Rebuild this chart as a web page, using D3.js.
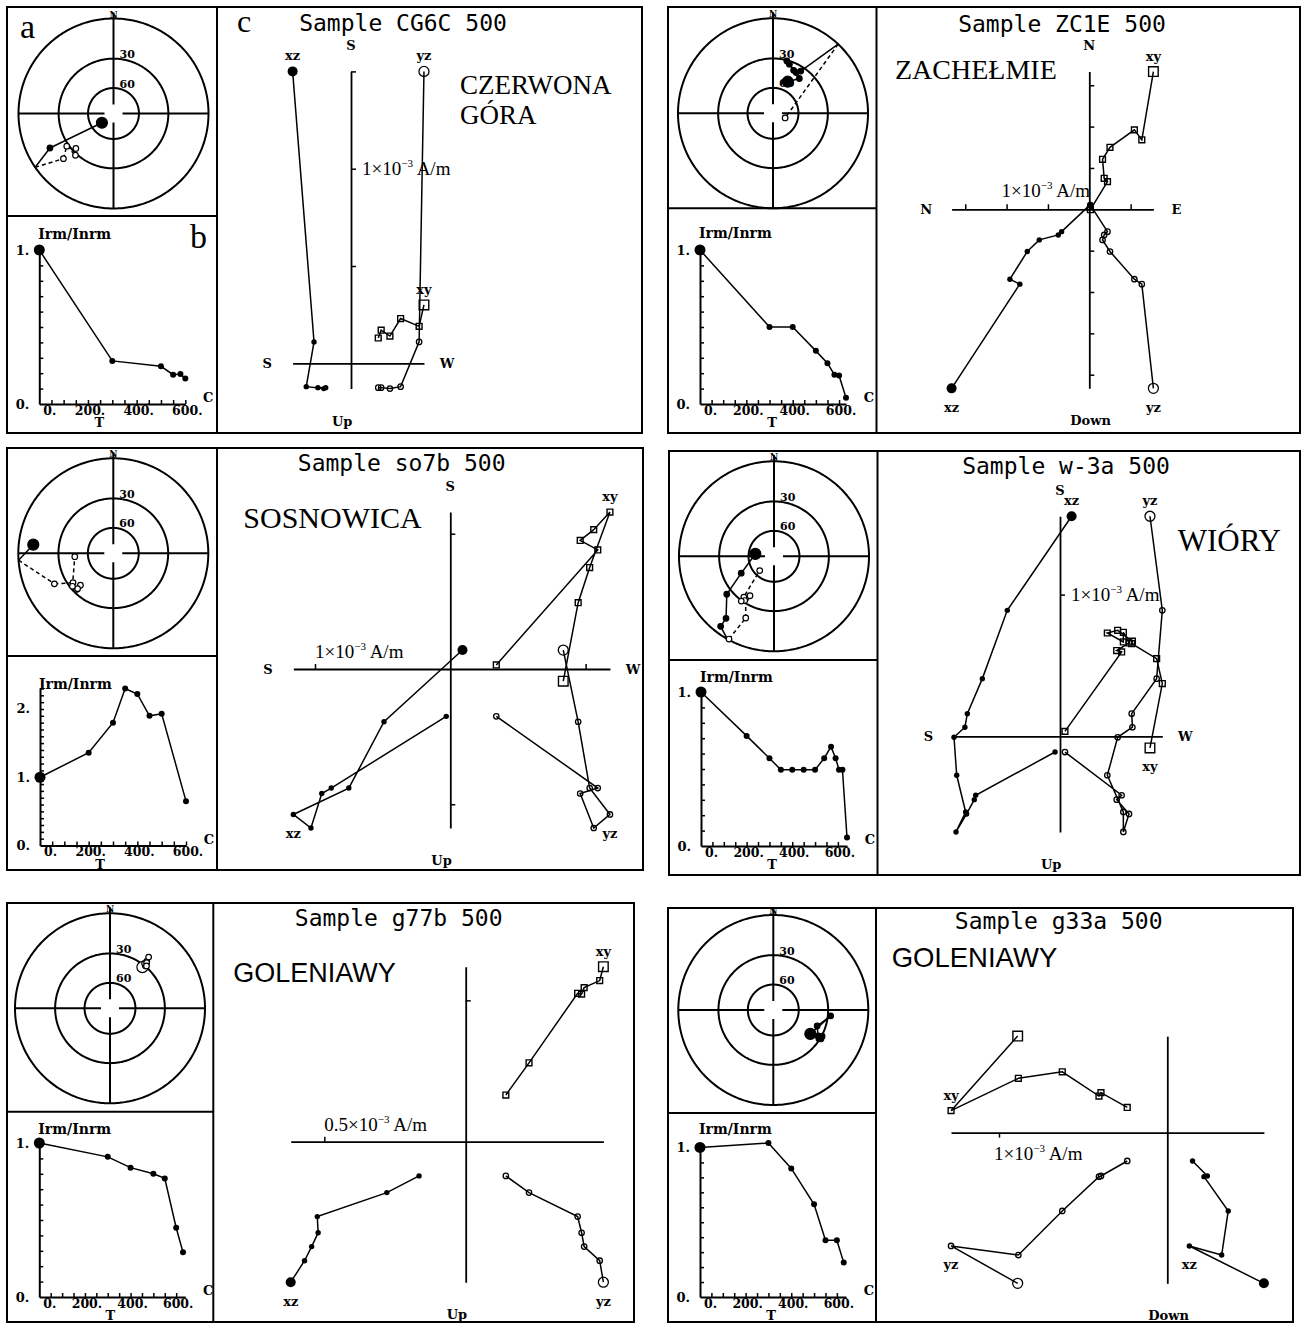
<!DOCTYPE html>
<html lang="pl">
<head>
<meta charset="utf-8">
<title>Thermal demagnetisation – six samples</title>
<script src="https://cdn.jsdelivr.net/npm/d3@7/dist/d3.min.js"></script>
<style>
  html, body { margin: 0; padding: 0; background: #fff; }
  svg { display: block; }
</style>
</head>
<body>
<svg id="fig" width="1301" height="1323"></svg>
<script>
// ---------------------------------------------------------------
// Data: thermal steps (°C), normalised intensity Irm/Inrm and the
// remanence vector components (north, east, down) in 10^-3 A/m.
// ---------------------------------------------------------------

// CG6C – Czerwona Góra
const tempCG6C  = [0, 300, 500, 550, 580, 600];
const ratioCG6C = [1, 0.28, 0.245, 0.19, 0.195, 0.165];
const northCG6C = [-0.30, -0.19, -0.23, -0.14, -0.17, -0.13];
const eastCG6C  = [-0.375, -0.35, -0.255, -0.20, -0.155, -0.14];
const downCG6C  = [1.50, 0.11, -0.12, -0.13, -0.125, -0.125];

// ZC1E – Zachełmie
const tempZC1E  = [0, 300, 400, 500, 550, 580, 600, 630];
const ratioZC1E = [1, 0.50, 0.50, 0.345, 0.265, 0.19, 0.185, 0.04];
const northZC1E = [1.665, 0.84, 0.96, 0.75, 0.605, 0.375, 0.335, -0.005];
const eastZC1E  = [0.775, 0.635, 0.545, 0.25, 0.16, 0.18, 0.22, 0.013];
const downZC1E  = [2.165, 0.905, 0.845, 0.51, 0.37, 0.31, 0.27, -0.05];

// so7b – Sosnowica
const tempSO7B  = [0, 200, 300, 350, 400, 450, 500, 600];
const ratioSO7B = [1, 1.36, 1.8, 2.3, 2.22, 1.9, 1.93, 0.65];
const northSO7B = [0.09, -0.49, -0.75, -1.16, -1.03, -0.95, -0.88, -0.03];
const eastSO7B  = [-0.835, -0.945, -1.03, -1.18, -1.06, -0.96, -1.09, -0.34];
const downSO7B  = [0.14, -0.39, -0.88, -1.075, -1.175, -0.92, -0.88, -0.35];

// w-3a – Wióry
const tempW3A  = [0, 200, 300, 350, 400, 450, 500, 540, 570, 590, 605, 620, 640];
const ratioW3A = [1, 0.715, 0.57, 0.495, 0.495, 0.495, 0.495, 0.57, 0.645, 0.57, 0.495, 0.495, 0.055];
const northW3A = [0.082, -0.372, -0.548, -0.654, -0.671, -0.748, -0.729, -0.666, -0.734, -0.659, -0.605, -0.595, -0.035];
const eastW3A  = [-0.635, -0.722, -0.682, -0.506, -0.511, -0.407, -0.334, -0.447, -0.447, -0.487, -0.40, -0.435, -0.035];
const downW3A  = [1.553, 0.889, 0.407, 0.16, 0.064, -0.007, -0.275, -0.534, -0.675, -0.548, -0.447, -0.416, -0.111];

// g77b – Goleniawy
const tempG77B  = [0, 300, 400, 500, 550, 600, 630];
const ratioG77B = [1, 0.91, 0.84, 0.80, 0.77, 0.45, 0.29];
const northG77B = [0.619, 0.570, 0.545, 0.522, 0.525, 0.279, 0.165];
const eastG77B  = [0.487, 0.474, 0.419, 0.410, 0.396, 0.224, 0.142];
const downG77B  = [-0.497, -0.421, -0.371, -0.322, -0.265, -0.180, -0.121];

// g33a – Goleniawy
const tempG33A  = [0, 300, 400, 500, 550, 600, 630];
const ratioG33A = [1, 1.03, 0.86, 0.62, 0.38, 0.38, 0.23];
const northG33A = [-0.574, -0.131, -0.323, -0.362, -0.218, -0.238, -0.150];
const eastG33A  = [0.889, 1.285, 0.885, 0.624, 0.406, 0.394, 0.238];
const downG33A  = [0.895, 0.673, 0.727, 0.465, 0.261, 0.257, 0.168];

// Axis tick labels of the Irm/Inrm plots
const tempTickLabels = [0, 200, 400, 600];

// ---------------------------------------------------------------
// Fonts
// ---------------------------------------------------------------
const serif = "'Liberation Serif','Times New Roman',serif";
const boldSerif = "'DejaVu Serif',serif";
const mono = "'DejaVu Sans Mono',monospace";
const sans = "'Liberation Sans',Arial,sans-serif";

// ---------------------------------------------------------------
// Panel layout (sN, sE: sign of north/east on the horizontal-plane
// projection, sXZ: sign of north on the xz projection, sZ: sign of
// "down" on the vertical axis).
// ---------------------------------------------------------------
const panels = [
  { sample: "CG6C", temp: tempCG6C, ratio: ratioCG6C, north: northCG6C, east: eastCG6C, down: downCG6C,
    frame: [7, 7, 642, 433], splitX: 217, splitY: 216,
    stereo: { cx: 113.5, cy: 113.5 },
    decay: { x0: 39.3, y0: 404, h: 154, tMax: 600, labelY: 239, tOff: 60 },
    zij: { ox: 351, oy: 363.3, k: 194.6, step: 0.5, sN: -1, sE: -1, sXZ: 1, sZ: 1,
           labels: { top: "S", left: "S", right: "W", bottom: "Up" },
           scale: { axis: "v", value: 1, text: "1" } },
    title: [403, 31],
    site: { lines: ["CZERWONA", "GÓRA"], x: 460, y: 94, lh: 30, font: serif, size: 27 } },

  { sample: "ZC1E", temp: tempZC1E, ratio: ratioZC1E, north: northZC1E, east: eastZC1E, down: downZC1E,
    frame: [668, 7, 1300, 433], splitX: 876.5, splitY: 208.3,
    stereo: { cx: 773, cy: 113.3 },
    decay: { x0: 700, y0: 404, h: 154, tMax: 630, labelY: 238, tOff: 72 },
    zij: { ox: 1089.3, oy: 209.3, k: 82.7, step: 0.5, sN: 1, sE: 1, sXZ: -1, sZ: -1,
           labels: { top: "N", left: "N", right: "E", bottom: "Down" },
           scale: { axis: "h", value: -1, text: "1", dx: -5, dy: -12 } },
    title: [1062, 31.5],
    site: { lines: ["ZACHEŁMIE"], x: 895, y: 79, lh: 0, font: serif, size: 28 } },

  { sample: "so7b", temp: tempSO7B, ratio: ratioSO7B, north: northSO7B, east: eastSO7B, down: downSO7B,
    frame: [7, 448, 643, 870], splitX: 217, splitY: 656,
    stereo: { cx: 113.3, cy: 553.3 },
    decay: { x0: 40, y0: 845.5, h: 157, tMax: 600, labelY: 689, tOff: 60 },
    zij: { ox: 450.3, oy: 669, k: 135.3, step: 1, sN: -1, sE: -1, sXZ: 1, sZ: 1,
           labels: { top: "S", left: "S", right: "W", bottom: "Up" },
           scale: { axis: "h", value: -1, text: "1", dx: 0, dy: -11 } },
    title: [401.7, 471],
    site: { lines: ["SOSNOWICA"], x: 243.3, y: 528.3, lh: 0, font: serif, size: 30 } },

  { sample: "w-3a", temp: tempW3A, ratio: ratioW3A, north: northW3A, east: eastW3A, down: downW3A,
    frame: [669, 451, 1300, 875], splitX: 877.5, splitY: 660,
    stereo: { cx: 774, cy: 556.3 },
    decay: { x0: 701, y0: 846, h: 154, tMax: 640, labelY: 682, tOff: 71 },
    zij: { ox: 1060, oy: 736.3, k: 141.7, step: 1, sN: -1, sE: -1, sXZ: 1, sZ: 1,
           labels: { top: "S", left: "S", right: "W", bottom: "Up" },
           scale: { axis: "v", value: 1, text: "1" } },
    title: [1066, 474],
    site: { lines: ["WIÓRY"], x: 1177.7, y: 551.3, lh: 0, font: serif, size: 31 } },

  { sample: "g77b", temp: tempG77B, ratio: ratioG77B, north: northG77B, east: eastG77B, down: downG77B,
    frame: [7, 903, 634, 1322], splitX: 213.3, splitY: 1111.7,
    stereo: { cx: 110, cy: 1008.3 },
    decay: { x0: 39.3, y0: 1297, h: 154, tMax: 640, labelY: 1134, tOff: 71 },
    zij: { ox: 465.7, oy: 1141.7, k: 282.7, step: 0.5, sN: 1, sE: 1, sXZ: -1, sZ: 1,
           labels: { bottom: "Up" },
           scale: { axis: "h", value: -0.5, text: "0.5", dx: 0, dy: -11 } },
    title: [398.7, 926],
    site: { lines: ["GOLENIAWY"], x: 233.3, y: 981.7, lh: 0, font: sans, size: 27 } },

  { sample: "g33a", temp: tempG33A, ratio: ratioG33A, north: northG33A, east: eastG33A, down: downG33A,
    frame: [668, 908, 1293, 1322], splitX: 876, splitY: 1113,
    stereo: { cx: 773.3, cy: 1010 },
    decay: { x0: 700, y0: 1297, h: 154, tMax: 640, labelY: 1134, tOff: 71 },
    zij: { ox: 1167.3, oy: 1132.7, k: 168.3, step: 1, sN: -1, sE: -1, sXZ: -1, sZ: -1, tickDown: true,
           labels: { bottom: "Down" },
           scale: { axis: "h", value: -1, text: "1", dx: -5, dy: 27 } },
    title: [1058.7, 929.3],
    site: { lines: ["GOLENIAWY"], x: 891.7, y: 966.7, lh: 0, font: sans, size: 27.5 } }
];

const svg = d3.select("#fig");
const R = 95;                 // radius of the stereographic net
const DEG = 180 / Math.PI;

function label(g, x, y, txt, opts = {}) {
  return g.append("text")
    .attr("x", x).attr("y", y)
    .attr("text-anchor", opts.anchor || "middle")
    .attr("font-family", opts.font || boldSerif)
    .attr("font-weight", opts.weight || "bold")
    .attr("font-size", opts.size || 13)
    .attr("fill", "#000")
    .text(txt);
}

function styleAxis(sel, width) {
  sel.select(".domain").attr("stroke", "#000").attr("stroke-width", width);
  sel.selectAll(".tick line").attr("stroke", "#000").attr("stroke-width", 1.5);
  sel.selectAll(".tick text").remove();
}

// ---------- frame ----------
function drawFrame(g, p) {
  const [x0, y0, x1, y1] = p.frame;
  g.append("rect").attr("x", x0).attr("y", y0).attr("width", x1 - x0).attr("height", y1 - y0)
    .attr("fill", "none").attr("stroke", "#000").attr("stroke-width", 2);
  g.append("line").attr("x1", p.splitX).attr("x2", p.splitX).attr("y1", y0).attr("y2", y1)
    .attr("stroke", "#000").attr("stroke-width", 2);
  g.append("line").attr("x1", x0).attr("x2", p.splitX).attr("y1", p.splitY).attr("y2", p.splitY)
    .attr("stroke", "#000").attr("stroke-width", 2);
}

// ---------- stereographic projection of the directions ----------
function directions(p) {
  return p.north.map((n, i) => {
    const e = p.east[i], d = p.down[i];
    return { v: [n, e, d], dec: Math.atan2(e, n) * DEG, inc: Math.atan2(d, Math.hypot(n, e)) * DEG };
  });
}

// point where the path between two directions passes through the horizontal plane
function horizonCrossing(a, b) {
  const la = Math.hypot(...a.v), lb = Math.hypot(...b.v);
  const ua = a.v.map(c => c / la), ub = b.v.map(c => c / lb);
  const t = ua[2] / (ua[2] - ub[2]);
  const n = ua[0] + t * (ub[0] - ua[0]);
  const e = ua[1] + t * (ub[1] - ua[1]);
  return { dec: Math.atan2(e, n) * DEG, inc: 0 };
}

function drawStereonet(g, p) {
  const { cx, cy } = p.stereo;
  const proj = d3.geoStereographic().rotate([0, -90]).scale(R).translate([cx, cy]);
  const geoPath = d3.geoPath(proj);
  const at = d => proj([180 - d.dec, Math.abs(d.inc)]);

  // primitive and the 30° / 60° inclination circles
  [0, 30, 60].forEach(inc => {
    const ring = d3.geoCircle().center([0, 90]).radius(90 - inc).precision(1)().coordinates[0];
    g.append("path").datum({ type: "LineString", coordinates: ring })
      .attr("d", geoPath).attr("fill", "none").attr("stroke", "#000").attr("stroke-width", 2);
  });

  const gap = 9;
  [[cx - R, cy, cx - gap, cy], [cx + gap, cy, cx + R, cy],
   [cx, cy - R - 6, cx, cy - gap], [cx, cy + gap, cx, cy + R]].forEach(s => {
    g.append("line").attr("x1", s[0]).attr("y1", s[1]).attr("x2", s[2]).attr("y2", s[3])
      .attr("stroke", "#000").attr("stroke-width", 2);
  });
  label(g, cx, cy - R - 1, "N", { size: 9 });
  label(g, cx + 6, proj([180, 30])[1] - 0.5, "30", { anchor: "start", size: 11 });
  label(g, cx + 6, proj([180, 60])[1] - 0.5, "60", { anchor: "start", size: 11 });

  const dirs = directions(p);
  const segs = [];
  for (let i = 1; i < dirs.length; i++) {
    const a = dirs[i - 1], b = dirs[i];
    const la = a.inc >= 0, lb = b.inc >= 0;
    if (la === lb) segs.push({ pts: [at(a), at(b)], lower: la });
    else {
      const c = horizonCrossing(a, b);
      segs.push({ pts: [at(a), at(c)], lower: la });
      segs.push({ pts: [at(c), at(b)], lower: lb });
    }
  }
  g.selectAll(null).data(segs).join("path")
    .attr("d", d => d3.line()(d.pts))
    .attr("fill", "none").attr("stroke", "#000").attr("stroke-width", 1.5)
    .attr("stroke-dasharray", d => d.lower ? null : "4,3");
  g.selectAll(null).data(dirs).join("circle")
    .attr("cx", d => at(d)[0]).attr("cy", d => at(d)[1])
    .attr("r", (d, i) => i === 0 ? 5.5 : 2.8)
    .attr("fill", d => d.inc >= 0 ? "#000" : "#fff")
    .attr("stroke", "#000").attr("stroke-width", 1.2);
}

// ---------- Irm/Inrm versus temperature ----------
function drawDecay(g, p) {
  const d = p.decay;
  const yMax = Math.max(1, d3.max(p.ratio));
  const x = d3.scaleLinear().domain([0, d.tMax]).range([d.x0, d.x0 + 146]);
  const y = d3.scaleLinear().domain([0, yMax]).range([d.y0, d.y0 - d.h]);

  const ax = g.append("g").attr("transform", `translate(0,${d.y0})`)
    .call(d3.axisTop(x).tickValues(d3.range(50, d.tMax + 1, 50)).tickSize(4).tickSizeOuter(0).tickFormat(""));
  styleAxis(ax, 2);
  const ay = g.append("g").attr("transform", `translate(${d.x0},0)`)
    .call(d3.axisRight(y).tickValues(d3.range(1, Math.floor(yMax * 10 + 1e-6) + 1).map(k => k / 10))
      .tickSize(4).tickSizeOuter(0).tickFormat(""));
  styleAxis(ay, 2);

  tempTickLabels.forEach(t => {
    label(g, t === 0 ? d.x0 + 10.5 : x(t) + 2, d.y0 + 10.5, `${t}.`, { size: 12.5 });
  });
  d3.range(0, Math.floor(yMax) + 1).forEach(v => {
    label(g, d.x0 - 10, y(v) + 4.5, `${v}.`, { anchor: "end" });
  });
  label(g, d.x0 + d.tOff, d.y0 + 23, "T");
  label(g, d.x0 + 146 + 23, d.y0 - 2, "C");
  label(g, d.x0 - 1, d.labelY, "Irm/Inrm", { anchor: "start", size: 14 });

  const pts = p.temp.map((t, i) => [x(t), y(p.ratio[i])]);
  g.append("path").attr("d", d3.line()(pts)).attr("fill", "none").attr("stroke", "#000").attr("stroke-width", 1.5);
  g.selectAll(null).data(pts).join("circle")
    .attr("cx", q => q[0]).attr("cy", q => q[1]).attr("r", (q, i) => i === 0 ? 5.5 : 3)
    .attr("fill", "#000");
}

// ---------- orthogonal vector projections ----------
function drawZijderveld(g, p) {
  const z = p.zij, n = p.north.length;
  const xy = d3.range(n).map(i => [z.sE * p.east[i], z.sN * p.north[i]]);
  const yz = d3.range(n).map(i => [z.sE * p.east[i], z.sZ * p.down[i]]);
  const xz = d3.range(n).map(i => [z.sXZ * p.north[i], z.sZ * p.down[i]]);
  const all = xy.concat(yz, xz);
  const hExt = d3.extent(all.map(q => q[0]).concat(0));
  const vExt = d3.extent(all.map(q => q[1]).concat(0));
  const x = d3.scaleLinear().domain(hExt).range(hExt.map(v => z.ox + z.k * v));
  const y = d3.scaleLinear().domain(vExt).range(vExt.map(v => z.oy - z.k * v));
  const ticks = ext => d3.range(Math.ceil(ext[0] / z.step - 1e-9), Math.floor(ext[1] / z.step + 1e-9) + 1)
    .map(k => k * z.step).filter(t => Math.abs(t) > 1e-9);

  const hAxis = (z.tickDown ? d3.axisBottom(x) : d3.axisTop(x))
    .tickValues(ticks(hExt)).tickSize(5).tickSizeOuter(0).tickFormat("");
  styleAxis(g.append("g").attr("transform", `translate(0,${z.oy})`).call(hAxis), 1.8);
  const vAxis = d3.axisRight(y).tickValues(ticks(vExt)).tickSize(5).tickSizeOuter(0).tickFormat("");
  styleAxis(g.append("g").attr("transform", `translate(${z.ox},0)`).call(vAxis), 1.8);

  // axis end labels
  const L = z.labels;
  if (L.top) label(g, z.ox, y(vExt[1]) - 21.5, L.top);
  if (L.left) label(g, x(hExt[0]) - 25.5, z.oy + 4.5, L.left);
  if (L.right) label(g, x(hExt[1]) + 23, z.oy + 4.5, L.right);
  if (L.bottom) label(g, z.ox - 19, y(vExt[0]) + 37, L.bottom, { anchor: "start" });

  // intensity scale label
  const s = z.scale;
  let sx, sy;
  if (s.axis === "v") { sx = z.ox + 11; sy = y(s.value) + 6; }
  else { sx = x(s.value) + s.dx; sy = z.oy + s.dy; }
  const st = g.append("text").attr("x", sx).attr("y", sy).attr("font-family", serif)
    .attr("font-size", 19).attr("fill", "#000");
  st.append("tspan").text(`${s.text}×10`);
  st.append("tspan").attr("font-size", 11).attr("dy", -8).text("−3");
  st.append("tspan").attr("dy", 8).text(" A/m");

  // projections
  const line = d3.line().x(q => x(q[0])).y(q => y(q[1]));
  [xy, yz, xz].forEach(series => {
    g.append("path").attr("d", line(series)).attr("fill", "none").attr("stroke", "#000").attr("stroke-width", 1.5);
  });
  const sq = d3.symbol().type(d3.symbolSquare);
  g.selectAll(null).data(xy).join("path")
    .attr("transform", q => `translate(${x(q[0])},${y(q[1])})`)
    .attr("d", (q, i) => sq.size(i === 0 ? 92 : 34)())
    .attr("fill", "none").attr("stroke", "#000").attr("stroke-width", 1.4);
  g.selectAll(null).data(yz).join("circle")
    .attr("cx", q => x(q[0])).attr("cy", q => y(q[1])).attr("r", (q, i) => i === 0 ? 5 : 2.7)
    .attr("fill", "none").attr("stroke", "#000").attr("stroke-width", 1.3);
  g.selectAll(null).data(xz).join("circle")
    .attr("cx", q => x(q[0])).attr("cy", q => y(q[1])).attr("r", (q, i) => i === 0 ? 5 : 2.7)
    .attr("fill", "#000");

  // projection names next to the largest vector
  const iMax = d3.maxIndex(d3.range(n), i => Math.hypot(p.north[i], p.east[i], p.down[i]));
  [[xy, "xy"], [yz, "yz"], [xz, "xz"]].forEach(([series, name]) => {
    const q = series[iMax];
    label(g, x(q[0]), y(q[1]) + (q[1] >= 0 ? -11 : 23.5), name);
  });
}

// ---------- assemble ----------
panels.forEach(p => {
  const g = svg.append("g").attr("class", "panel");
  drawFrame(g, p);
  drawStereonet(g, p);
  drawDecay(g, p);
  drawZijderveld(g, p);
  label(g, p.title[0], p.title[1], `Sample ${p.sample} 500`, { font: mono, weight: "normal", size: 23 });
  p.site.lines.forEach((t, i) => {
    label(g, p.site.x, p.site.y + i * p.site.lh, t,
      { anchor: "start", font: p.site.font, weight: "normal", size: p.site.size });
  });
});

// panel letters of the first sample
const first = svg.append("g");
label(first, 20, 38, "a", { anchor: "start", font: serif, weight: "normal", size: 34 });
label(first, 190, 248, "b", { anchor: "start", font: serif, weight: "normal", size: 34 });
label(first, 237, 32, "c", { anchor: "start", font: serif, weight: "normal", size: 32 });
</script>
</body>
</html>
